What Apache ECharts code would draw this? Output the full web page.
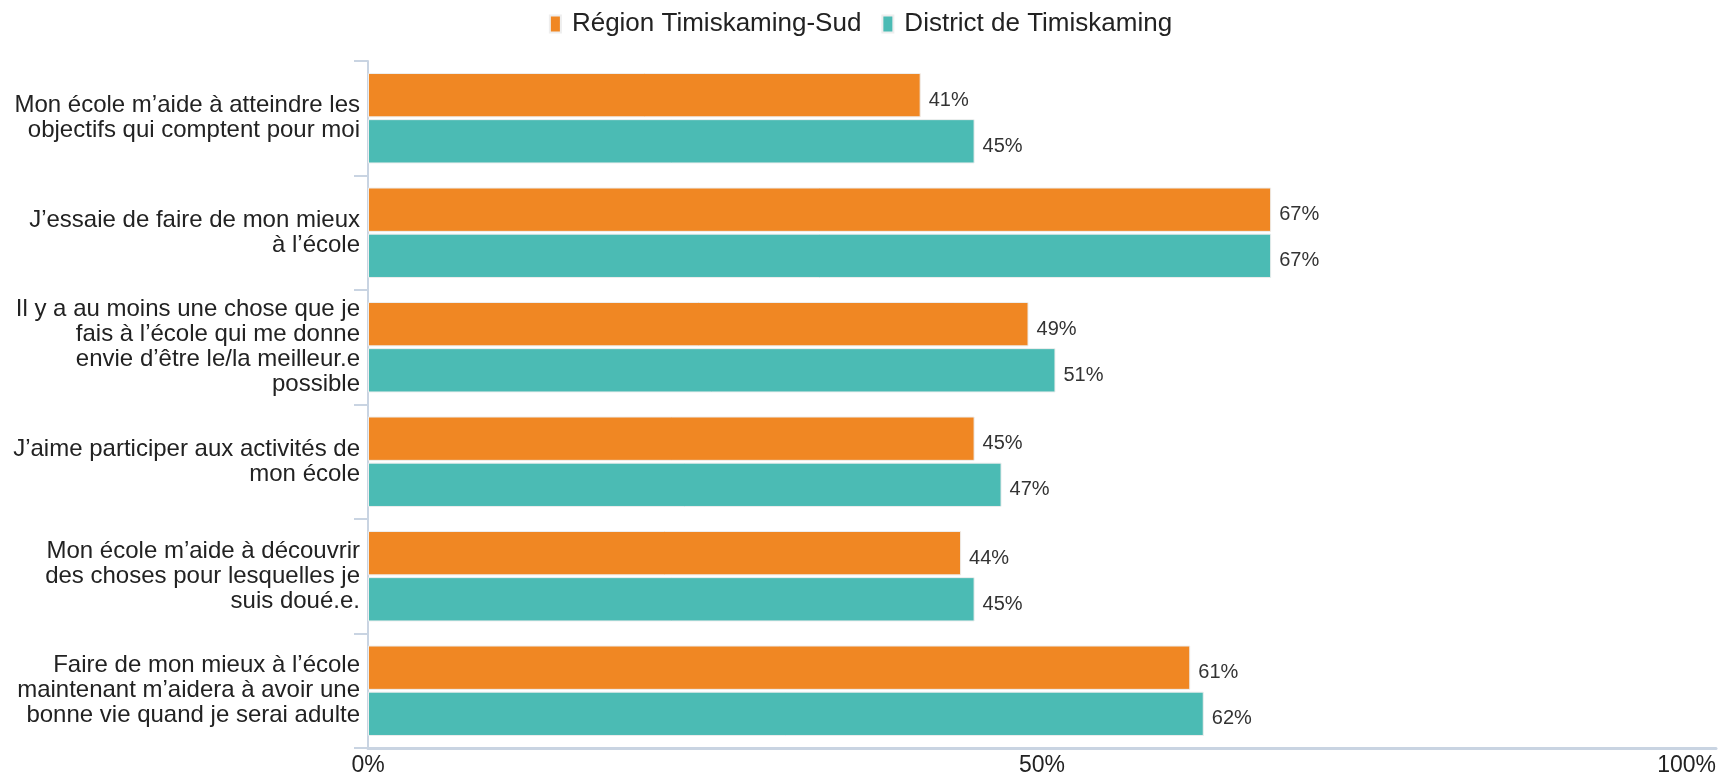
<!DOCTYPE html>
<html>
<head>
<meta charset="utf-8">
<script src="https://cdn.jsdelivr.net/npm/echarts@6/dist/echarts.min.js"></script>
<style>
  html, body { margin: 0; padding: 0; background: #fff; }
  #chart { width: 1721px; height: 777px; }
</style>
</head>
<body>
<div id="chart"></div>
<script>
var categories = [
    'Mon école m’aide à atteindre les\nobjectifs qui comptent pour moi',
    'J’essaie de faire de mon mieux\nà l’école',
    'Il y a au moins une chose que je\nfais à l’école qui me donne\nenvie d’être le/la meilleur.e\npossible',
    'J’aime participer aux activités de\nmon école',
    'Mon école m’aide à découvrir\ndes choses pour lesquelles je\nsuis doué.e.',
    'Faire de mon mieux à l’école\nmaintenant m’aidera à avoir une\nbonne vie quand je serai adulte'
];
var seriesNames = ['Région Timiskaming-Sud', 'District de Timiskaming'];
var regionValues = [41, 67, 49, 45, 44, 61];
var districtValues = [45, 67, 51, 47, 45, 62];
var xTicks = [0, 50, 100];

var myChart = echarts.init(document.getElementById('chart'));

var labelStyle = {
    show: true,
    position: 'right',
    distance: 8,
    offset: [0, 5],
    formatter: '{c}%',
    color: '#333',
    fontSize: 20,
    fontFamily: 'Liberation Sans, Arial, sans-serif'
};

var option = {
    animation: false,
    legend: {
        top: 6,
        left: 'center',
        itemWidth: 11,
        itemHeight: 17,
        itemGap: 20,
        icon: 'rect',
        textStyle: {
            fontSize: 26,
            color: '#222',
            fontFamily: 'Liberation Sans, Arial, sans-serif',
            padding: [0, 0, 0, 6]
        },
        data: seriesNames
    },
    grid: {
        left: 368,
        right: 5,
        top: 61,
        bottom: 24
    },
    xAxis: {
        type: 'value',
        min: 0,
        max: 100,
        interval: 50,
        splitLine: { show: false },
        axisTick: { show: false },
        axisLine: {
            show: true,
            lineStyle: { color: '#c9d4e2', width: 3 }
        },
        axisLabel: {
            margin: 6,
            fontSize: 23,
            color: '#222',
            fontFamily: 'Liberation Sans, Arial, sans-serif',
            alignMaxLabel: 'right',
            formatter: function (v) {
                return xTicks.indexOf(v) >= 0 ? v + '%' : '';
            }
        }
    },
    yAxis: {
        type: 'category',
        inverse: true,
        data: categories,
        axisLine: {
            show: true,
            lineStyle: { color: '#c9d4e2', width: 2 }
        },
        axisTick: {
            show: true,
            length: 14,
            lineStyle: { color: '#c9d4e2', width: 2 }
        },
        axisLabel: {
            margin: 8,
            fontSize: 24,
            lineHeight: 25,
            color: '#222',
            align: 'right',
            fontFamily: 'Liberation Sans, Arial, sans-serif'
        }
    },
    series: [
        {
            name: seriesNames[0],
            type: 'bar',
            data: regionValues,
            barGap: '4%',
            barCategoryGap: '21%',
            itemStyle: { color: '#f08723', borderColor: '#eeeeee', borderWidth: 1 },
            label: labelStyle
        },
        {
            name: seriesNames[1],
            type: 'bar',
            data: districtValues,
            itemStyle: { color: '#4bbbb4', borderColor: '#eeeeee', borderWidth: 1 },
            label: labelStyle
        }
    ]
};
myChart.setOption(option);
</script>
</body>
</html>
